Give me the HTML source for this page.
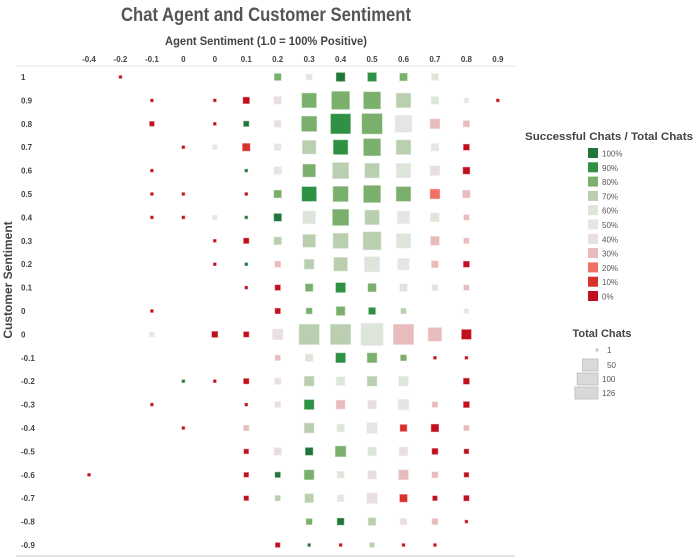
<!DOCTYPE html>
<html><head><meta charset="utf-8">
<style>
html,body{margin:0;padding:0;background:#fff;}
svg{display:block;font-family:"Liberation Sans","DejaVu Sans",sans-serif;}
</style></head>
<body>
<svg id="chart" width="700" height="558" viewBox="0 0 700 558">
  <text x="266" y="21" text-anchor="middle" font-size="19" font-weight="bold" fill="#555" textLength="290" lengthAdjust="spacingAndGlyphs">Chat Agent and Customer Sentiment</text>
  <text x="266" y="45" text-anchor="middle" font-size="12" font-weight="bold" fill="#444" textLength="202" lengthAdjust="spacingAndGlyphs">Agent Sentiment (1.0 = 100% Positive)</text>
  <text transform="translate(12,280) rotate(-90)" text-anchor="middle" font-size="12" font-weight="bold" fill="#444">Customer Sentiment</text>
  <line x1="16" y1="66" x2="515" y2="66" stroke="#e6e6e6" stroke-width="1"/>
  <line x1="16" y1="556" x2="515" y2="556" stroke="#e6e6e6" stroke-width="2"/>
  <g id="cols"></g><g id="rows"></g><g id="marks"></g><g id="legend"></g>
</svg>
<script>
const colLabels = ["-0.4","-0.2","-0.1","0","0","0.1","0.2","0.3","0.4","0.5","0.6","0.7","0.8","0.9"];
const rowLabels = ["1","0.9","0.8","0.7","0.6","0.5","0.4","0.3","0.2","0.1","0","0","-0.1","-0.2","-0.3","-0.4","-0.5","-0.6","-0.7","-0.8","-0.9"];
// each cell: [rowIndex, colIndex, totalChats, successPct]
const cellRow = [0,0,0,0,0,0,0,
 1,1,1,1,1,1,1,1,1,1,1,
 2,2,2,2,2,2,2,2,2,2,
 3,3,3,3,3,3,3,3,3,3,
 4,4,4,4,4,4,4,4,4,
 5,5,5,5,5,5,5,5,5,5,
 6,6,6,6,6,6,6,6,6,6,6,
 7,7,7,7,7,7,7,7,7,
 8,8,8,8,8,8,8,8,8,
 9,9,9,9,9,9,9,9,
 10,10,10,10,10,10,10,
 11,11,11,11,11,11,11,11,11,11,
 12,12,12,12,12,12,12,
 13,13,13,13,13,13,13,13,13,
 14,14,14,14,14,14,14,14,14,
 15,15,15,15,15,15,15,15,
 16,16,16,16,16,16,16,16,
 17,17,17,17,17,17,17,17,17,
 18,18,18,18,18,18,18,18,
 19,19,19,19,19,19,
 20,20,20,20,20,20];
const cellCol = [1,6,7,8,9,10,11,
 2,4,5,6,7,8,9,10,11,12,13,
 2,4,5,6,7,8,9,10,11,12,
 3,4,5,6,7,8,9,10,11,12,
 2,5,6,7,8,9,10,11,12,
 2,3,5,6,7,8,9,10,11,12,
 2,3,4,5,6,7,8,9,10,11,12,
 4,5,6,7,8,9,10,11,12,
 4,5,6,7,8,9,10,11,12,
 5,6,7,8,9,10,11,12,
 2,6,7,8,9,10,12,
 2,4,5,6,7,8,9,10,11,12,
 6,7,8,9,10,11,12,
 3,4,5,6,7,8,9,10,12,
 2,5,6,7,8,9,10,11,12,
 3,5,7,8,9,10,11,12,
 5,6,7,8,9,10,11,12,
 0,5,6,7,8,9,10,11,12,
 5,6,7,8,9,10,11,12,
 7,8,9,10,11,12,
 6,7,8,9,10,11];
const cellTotal = [1,6,4,12,12,8,6,
 1,1,5,8,45,75,66,45,8,2,1,
 2,1,3,6,50,95,100,66,16,5,
 1,2,8,6,38,45,66,45,8,4,
 1,1,8,32,58,45,45,16,6,
 1,1,1,8,45,50,66,45,16,8,
 1,1,2,1,8,32,58,45,32,12,3,
 1,3,8,32,50,75,45,12,3,
 1,1,4,16,38,50,26,6,4,
 1,3,8,16,10,8,4,3,
 1,3,4,12,6,3,2,
 2,4,3,20,100,100,126,100,38,16,
 3,8,16,16,4,1,1,
 1,1,3,5,16,12,16,16,4,
 1,1,4,16,12,12,20,3,4,
 1,3,16,8,20,6,8,3,
 2,8,8,20,12,12,4,2,
 1,2,3,16,6,12,16,4,2,
 2,3,12,6,20,8,2,3,
 4,6,8,5,4,1,
 2,1,1,2,1,1];
const cellPct = [0,80,50,100,90,80,60,
 0,0,0,40,80,80,80,70,60,50,0,
 0,0,100,40,80,90,80,50,30,30,
 0,50,10,50,70,90,80,70,50,0,
 0,100,50,80,70,70,60,40,0,
 0,0,0,80,90,80,80,80,20,30,
 0,0,50,100,100,60,80,70,50,60,30,
 0,0,70,70,70,70,60,30,30,
 0,100,30,70,70,60,50,30,0,
 0,0,80,90,80,60,60,30,
 0,0,80,80,90,70,50,
 50,0,0,40,70,70,60,30,30,0,
 30,60,90,80,80,0,0,
 100,0,0,40,70,60,70,60,0,
 0,0,40,90,30,40,50,30,0,
 0,30,70,60,50,10,0,30,
 0,40,100,80,60,40,0,0,
 0,0,100,80,60,40,30,30,0,
 0,70,70,50,40,10,0,0,
 80,100,70,40,30,0,
 0,100,0,70,0,0];
const legendPcts = [100,90,80,70,60,50,40,30,20,10,0];
const legendSizes = [1,50,100,126];
const palette = {100:"#21773a",90:"#2e9143",80:"#7aaf6c",70:"#b9cfb0",60:"#dee5db",50:"#e5e5e5",40:"#eadfe0",30:"#e8bcbc",20:"#f07065",10:"#d8302b",0:"#c00f1e"};

const NS="http://www.w3.org/2000/svg";
function xPos(c){return 89 + c*31.45;}
function yPos(r){return 77 + r*23.4;}
function side(n){return 2.6 + 19.4*Math.sqrt(Math.max(0,n-1)/125);}
function color(p){const k=Math.max(0,Math.min(100,Math.round(p/10)*10));return palette[k];}
function mk(tag,attrs,parent){const e=document.createElementNS(NS,tag);for(const k in attrs)e.setAttribute(k,attrs[k]);parent.appendChild(e);return e;}

const colsG=document.getElementById('cols');
colLabels.forEach((l,i)=>{
  const t=mk('text',{x:xPos(i),y:62,'text-anchor':'middle','font-size':8,'font-weight':'bold',fill:'#444'},colsG);
  t.textContent=l;
  
  
});
const rowsG=document.getElementById('rows');
rowLabels.forEach((l,i)=>{
  const t=mk('text',{x:21,y:yPos(i)+3,'font-size':8,'font-weight':'bold',fill:'#444'},rowsG);
  t.textContent=l;
  
  
});
const marksG=document.getElementById('marks');
for(let i=0;i<cellTotal.length;i++){
  const s=side(cellTotal[i]);const cx=xPos(cellCol[i]), cy=yPos(cellRow[i]);
  const c=color(cellPct[i]);
  const r=mk('rect',{x:cx-s/2,y:cy-s/2,width:s,height:s,fill:c,stroke:c,'stroke-opacity':0.5,'stroke-width':1},marksG);
  
  
}
const lg=document.getElementById('legend');
const lt=mk('text',{x:609,y:140,'text-anchor':'middle','font-size':11,'font-weight':'bold',fill:'#444',textLength:168,lengthAdjust:'spacingAndGlyphs'},lg);
lt.textContent='Successful Chats / Total Chats';


legendPcts.forEach((p,i)=>{
  const y=148+i*14.3;
  const r=mk('rect',{x:588,y:y,width:10,height:10,fill:color(p)},lg);
  
  
  const t=mk('text',{x:602,y:y+8.5,'font-size':8,fill:'#555'},lg);
  t.textContent=p+'%';
  
  
});
const st=mk('text',{x:602,y:337,'text-anchor':'middle','font-size':11,'font-weight':'bold',fill:'#444'},lg);
st.textContent='Total Chats';


const sizeY=[350,365,379,393];
legendSizes.forEach((n,i)=>{
  const s=side(n);const w=n>1?s*1.05:2;const h=n>1?12:2;
  const r=mk('rect',{x:598-w,y:sizeY[i]-h/2,width:w,height:h,fill:'#d9d9d9',stroke:'#bbb','stroke-width':0.8},lg);
  
  
  const t=mk('text',{x:n>=100?602:607,y:sizeY[i]+3,'font-size':8,fill:'#555'},lg);
  t.textContent=String(n);
  
  
});
</script>
</body></html>
